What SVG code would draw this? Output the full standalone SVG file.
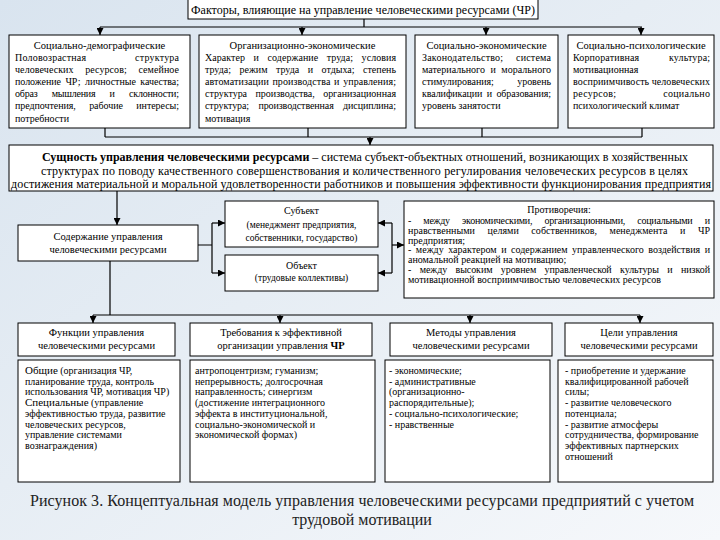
<svg xmlns="http://www.w3.org/2000/svg" width="720" height="540" viewBox="0 0 720 540">
<defs>
<linearGradient id="bg" x1="0" y1="0" x2="1" y2="1">
<stop offset="0" stop-color="#d9e4ef"/>
<stop offset="0.45" stop-color="#e6edf4"/>
<stop offset="1" stop-color="#f6f8fb"/>
</linearGradient>
<marker id="ah" viewBox="0 0 8 8" refX="8" refY="4" markerWidth="7" markerHeight="7" markerUnits="userSpaceOnUse" orient="auto">
<path d="M0,0 L8,4 L0,8 z" fill="#000"/>
</marker>
<style>
.box{fill:#fff;stroke:#000;stroke-width:1}
.t{font-family:"Liberation Serif","Times New Roman",serif;fill:#000}
.c{text-anchor:middle}
.f12{font-size:12px}
.f105{font-size:10.5px}
.f10{font-size:10px}
.f95{font-size:9.5px}
.cap{font-size:16px;fill:#222}
.ln{fill:none;stroke:#000;stroke-width:1.2}
.ar{fill:none;stroke:#000;stroke-width:1.2;marker-end:url(#ah)}
</style>
</defs>
<rect x="0" y="0" width="720" height="540" fill="url(#bg)"/>

<g id="connectors">
<path class="ln" d="M364,19 V27 M100,27 H642"/>
<path class="ar" d="M100,27 V35"/>
<path class="ar" d="M302,27 V35"/>
<path class="ar" d="M486,27 V35"/>
<path class="ar" d="M641,27 V35"/>
<path class="ln" d="M105,128 V137 M308,128 V137 M482,128 V137 M642,128 V137 M105,137 H642"/>
<path class="ar" d="M370,137 V145"/>
<path class="ar" d="M117,191 V225"/>
<path class="ln" d="M198,245 H212 M212,223 V273"/>
<path class="ar" d="M212,223 H225"/>
<path class="ar" d="M212,273 H225"/>
<path class="ln" d="M392,223 V273"/>
<path class="ar" d="M392,223 H378"/>
<path class="ar" d="M392,273 H378"/>
<path class="ar" d="M392,245 H404"/>
<path class="ln" d="M110,261 V315 M93,315 H640"/>
<path class="ar" d="M93,315 V323"/>
<path class="ar" d="M280,315 V323"/>
<path class="ar" d="M470,315 V323"/>
<path class="ar" d="M640,315 V323"/>
</g>

<g id="title">
<rect class="box" x="188" y="-1" width="350" height="20"/>
<text class="t c f12" x="363" y="14">Факторы, влияющие на управление человеческими ресурсами (ЧР)</text>
</g>

<g id="factor-demographic">
<rect class="box" x="9" y="35" width="181" height="93"/>
<text class="t c f105" x="99.5" y="49">Социально-демографические</text>
<g class="t f10">
<text x="15" y="60.5" textLength="164" lengthAdjust="spacing" style="word-spacing:46px">Половозрастная структура</text>
<text x="15" y="72.7" textLength="164" lengthAdjust="spacing" style="word-spacing:9px">человеческих ресурсов; семейное</text>
<text x="15" y="84.9" textLength="164" lengthAdjust="spacing" style="word-spacing:2px">положение ЧР; личностные качества;</text>
<text x="15" y="97.1" textLength="164" lengthAdjust="spacing" style="word-spacing:12px">образ мышления и склонности;</text>
<text x="15" y="109.3" textLength="164" lengthAdjust="spacing" style="word-spacing:11px">предпочтения, рабочие интересы;</text>
<text x="15" y="121.5">потребности</text>
</g>
</g>

<g id="factor-organizational">
<rect class="box" x="199" y="35" width="207" height="93"/>
<text class="t c f105" x="302.5" y="49">Организационно-экономические</text>
<g class="t f10">
<text x="205" y="60.5" textLength="191" lengthAdjust="spacing" style="word-spacing:6px">Характер и содержание труда; условия</text>
<text x="205" y="72.7" textLength="191" lengthAdjust="spacing" style="word-spacing:6px">труда; режим труда и отдыха; степень</text>
<text x="205" y="84.9" textLength="191" lengthAdjust="spacing" style="word-spacing:1px">автоматизации производства и управления;</text>
<text x="205" y="97.1" textLength="191" lengthAdjust="spacing" style="word-spacing:6px">структура производства, организационная</text>
<text x="205" y="109.3" textLength="191" lengthAdjust="spacing" style="word-spacing:7px">структура; производственная дисциплина;</text>
<text x="205" y="121.5">мотивация</text>
</g>
</g>

<g id="factor-socioeconomic">
<rect class="box" x="415" y="35" width="143" height="93"/>
<text class="t c f105" x="486.5" y="49">Социально-экономические</text>
<g class="t f10">
<text x="422" y="60.5" textLength="129" lengthAdjust="spacing" style="word-spacing:10px">Законодательство; система</text>
<text x="422" y="72.7" textLength="129" lengthAdjust="spacing" style="word-spacing:3px">материального и морального</text>
<text x="422" y="84.9" textLength="129" lengthAdjust="spacing" style="word-spacing:21px">стимулирования; уровень</text>
<text x="422" y="97.1" textLength="129" lengthAdjust="spacing" style="word-spacing:2px">квалификации и образования;</text>
<text x="422" y="109.3">уровень занятости</text>
</g>
</g>

<g id="factor-psychological">
<rect class="box" x="568" y="35" width="146" height="93"/>
<text class="t c f105" x="641" y="49">Социально-психологические</text>
<g class="t f10">
<text x="573" y="60.5" textLength="137" lengthAdjust="spacing" style="word-spacing:27px">Корпоративная культура;</text>
<text x="573" y="72.7">мотивационная</text>
<text x="573" y="84.9" textLength="137" lengthAdjust="spacing">восприимчивость человеческих</text>
<text x="573" y="97.1" textLength="137" lengthAdjust="spacing" style="word-spacing:44px">ресурсов; социально</text>
<text x="573" y="109.3">психологический климат</text>
</g>
</g>

<g id="essence">
<rect class="box" x="9" y="145" width="704" height="46"/>
<g class="t f12">
<text x="42" y="161" textLength="646" lengthAdjust="spacing"><tspan font-weight="bold">Сущность управления человеческими ресурсами</tspan> – система субъект-объектных отношений, возникающих в хозяйственных</text>
<text x="41" y="175" textLength="647" lengthAdjust="spacing">структурах по поводу качественного совершенствования и количественного регулирования человеческих ресурсов в целях</text>
<text x="11" y="188" textLength="700" lengthAdjust="spacing">достижения материальной и моральной удовлетворенности работников и повышения эффективности функционирования предприятия</text>
</g>
</g>

<g id="content">
<rect class="box" x="18" y="225" width="180" height="36"/>
<text class="t c f105" x="108" y="240">Содержание управления</text>
<text class="t c f105" x="108" y="253">человеческими ресурсами</text>
</g>

<g id="subject">
<rect class="box" x="225" y="201" width="153" height="46"/>
<text class="t c f10" x="301.5" y="214">Субъект</text>
<text class="t c f95" x="301.5" y="228">(менеджмент предприятия,</text>
<text class="t c f95" x="301.5" y="241">собственники, государство)</text>
</g>

<g id="object">
<rect class="box" x="225" y="255" width="153" height="36"/>
<text class="t c f10" x="301.5" y="269">Объект</text>
<text class="t c f95" x="301.5" y="281">(трудовые коллективы)</text>
</g>

<g id="contradictions">
<rect class="box" x="404" y="201" width="310" height="97"/>
<text class="t c f10" x="559" y="213">Противоречия:</text>
<g class="t f10">
<text x="408" y="224" textLength="302" lengthAdjust="spacing" style="word-spacing:10px">- между экономическими, организационными, социальными и</text>
<text x="408" y="233.8" textLength="302" lengthAdjust="spacing" style="word-spacing:10px">нравственными целями собственников, менеджмента и ЧР</text>
<text x="408" y="243.6">предприятия;</text>
<text x="408" y="253.4" textLength="302" lengthAdjust="spacing" style="word-spacing:2px">- между характером и содержанием управленческого воздействия и</text>
<text x="408" y="263.2">аномальной реакцией на мотивацию;</text>
<text x="408" y="273" textLength="302" lengthAdjust="spacing" style="word-spacing:6px">- между высоким уровнем управленческой культуры и низкой</text>
<text x="408" y="282.8">мотивационной восприимчивостью человеческих ресурсов</text>
</g>
</g>

<g id="functions">
<rect class="box" x="18" y="323" width="157" height="33"/>
<text class="t c f105" x="96.5" y="336">Функции управления</text>
<text class="t c f105" x="96.5" y="348.5">человеческими ресурсами</text>
</g>
<g id="requirements">
<rect class="box" x="190" y="323" width="182" height="33"/>
<text class="t c f105" x="281" y="336">Требования к эффективной</text>
<text class="t c f105" x="281" y="348.5">организации управления <tspan font-weight="bold">ЧР</tspan></text>
</g>
<g id="methods">
<rect class="box" x="390" y="323" width="162" height="33"/>
<text class="t c f105" x="471" y="336">Методы управления</text>
<text class="t c f105" x="471" y="348.5">человеческими ресурсами</text>
</g>
<g id="goals">
<rect class="box" x="565" y="323" width="148" height="33"/>
<text class="t c f105" x="639" y="336">Цели управления</text>
<text class="t c f105" x="639" y="348.5">человеческими ресурсами</text>
</g>

<g id="functions-detail">
<rect class="box" x="18" y="360" width="162" height="122"/>
<g class="t f10">
<text x="25" y="374"><tspan font-size="11px">Общие</tspan> (организация ЧР,</text>
<text x="25" y="384.7">планирование труда, контроль</text>
<text x="25" y="395.4">использования ЧР, мотивация ЧР)</text>
<text x="25" y="406.1"><tspan font-size="11px">Специальные</tspan> (управление</text>
<text x="25" y="416.8">эффективностью труда, развитие</text>
<text x="25" y="427.5">человеческих ресурсов,</text>
<text x="25" y="438.2">управление системами</text>
<text x="25" y="448.9">вознаграждения)</text>
</g>
</g>

<g id="requirements-detail">
<rect class="box" x="190" y="360" width="185" height="122"/>
<g class="t f10">
<text x="195" y="374">антропоцентризм; гуманизм;</text>
<text x="195" y="384.7">непрерывность; долгосрочная</text>
<text x="195" y="395.4">направленность; синергизм</text>
<text x="195" y="406.1">(достижение интеграционного</text>
<text x="195" y="416.8">эффекта в институциональной,</text>
<text x="195" y="427.5">социально-экономической и</text>
<text x="195" y="438.2">экономической формах)</text>
</g>
</g>

<g id="methods-detail">
<rect class="box" x="385" y="360" width="165" height="122"/>
<g class="t f10">
<text x="389" y="374">- экономические;</text>
<text x="389" y="384.7">- административные</text>
<text x="389" y="395.4">(организационно-</text>
<text x="389" y="406.1">распорядительные);</text>
<text x="389" y="416.8">- социально-психологические;</text>
<text x="389" y="427.5">- нравственные</text>
</g>
</g>

<g id="goals-detail">
<rect class="box" x="558" y="360" width="155" height="122"/>
<g class="t f10">
<text x="565" y="374">- приобретение и удержание</text>
<text x="565" y="384.7">квалифицированной рабочей</text>
<text x="565" y="395.4">силы;</text>
<text x="565" y="406.1">- развитие человеческого</text>
<text x="565" y="416.8">потенциала;</text>
<text x="565" y="427.5">- развитие атмосферы</text>
<text x="565" y="438.2">сотрудничества, формирование</text>
<text x="565" y="448.9">эффективных партнерских</text>
<text x="565" y="459.6">отношений</text>
</g>
</g>

<g id="caption">
<text class="t c cap" x="362" y="506" textLength="664" lengthAdjust="spacing">Рисунок 3. Концептуальная модель управления человеческими ресурсами предприятий с учетом</text>
<text class="t c cap" x="362" y="525">трудовой мотивации</text>
</g>
</svg>
